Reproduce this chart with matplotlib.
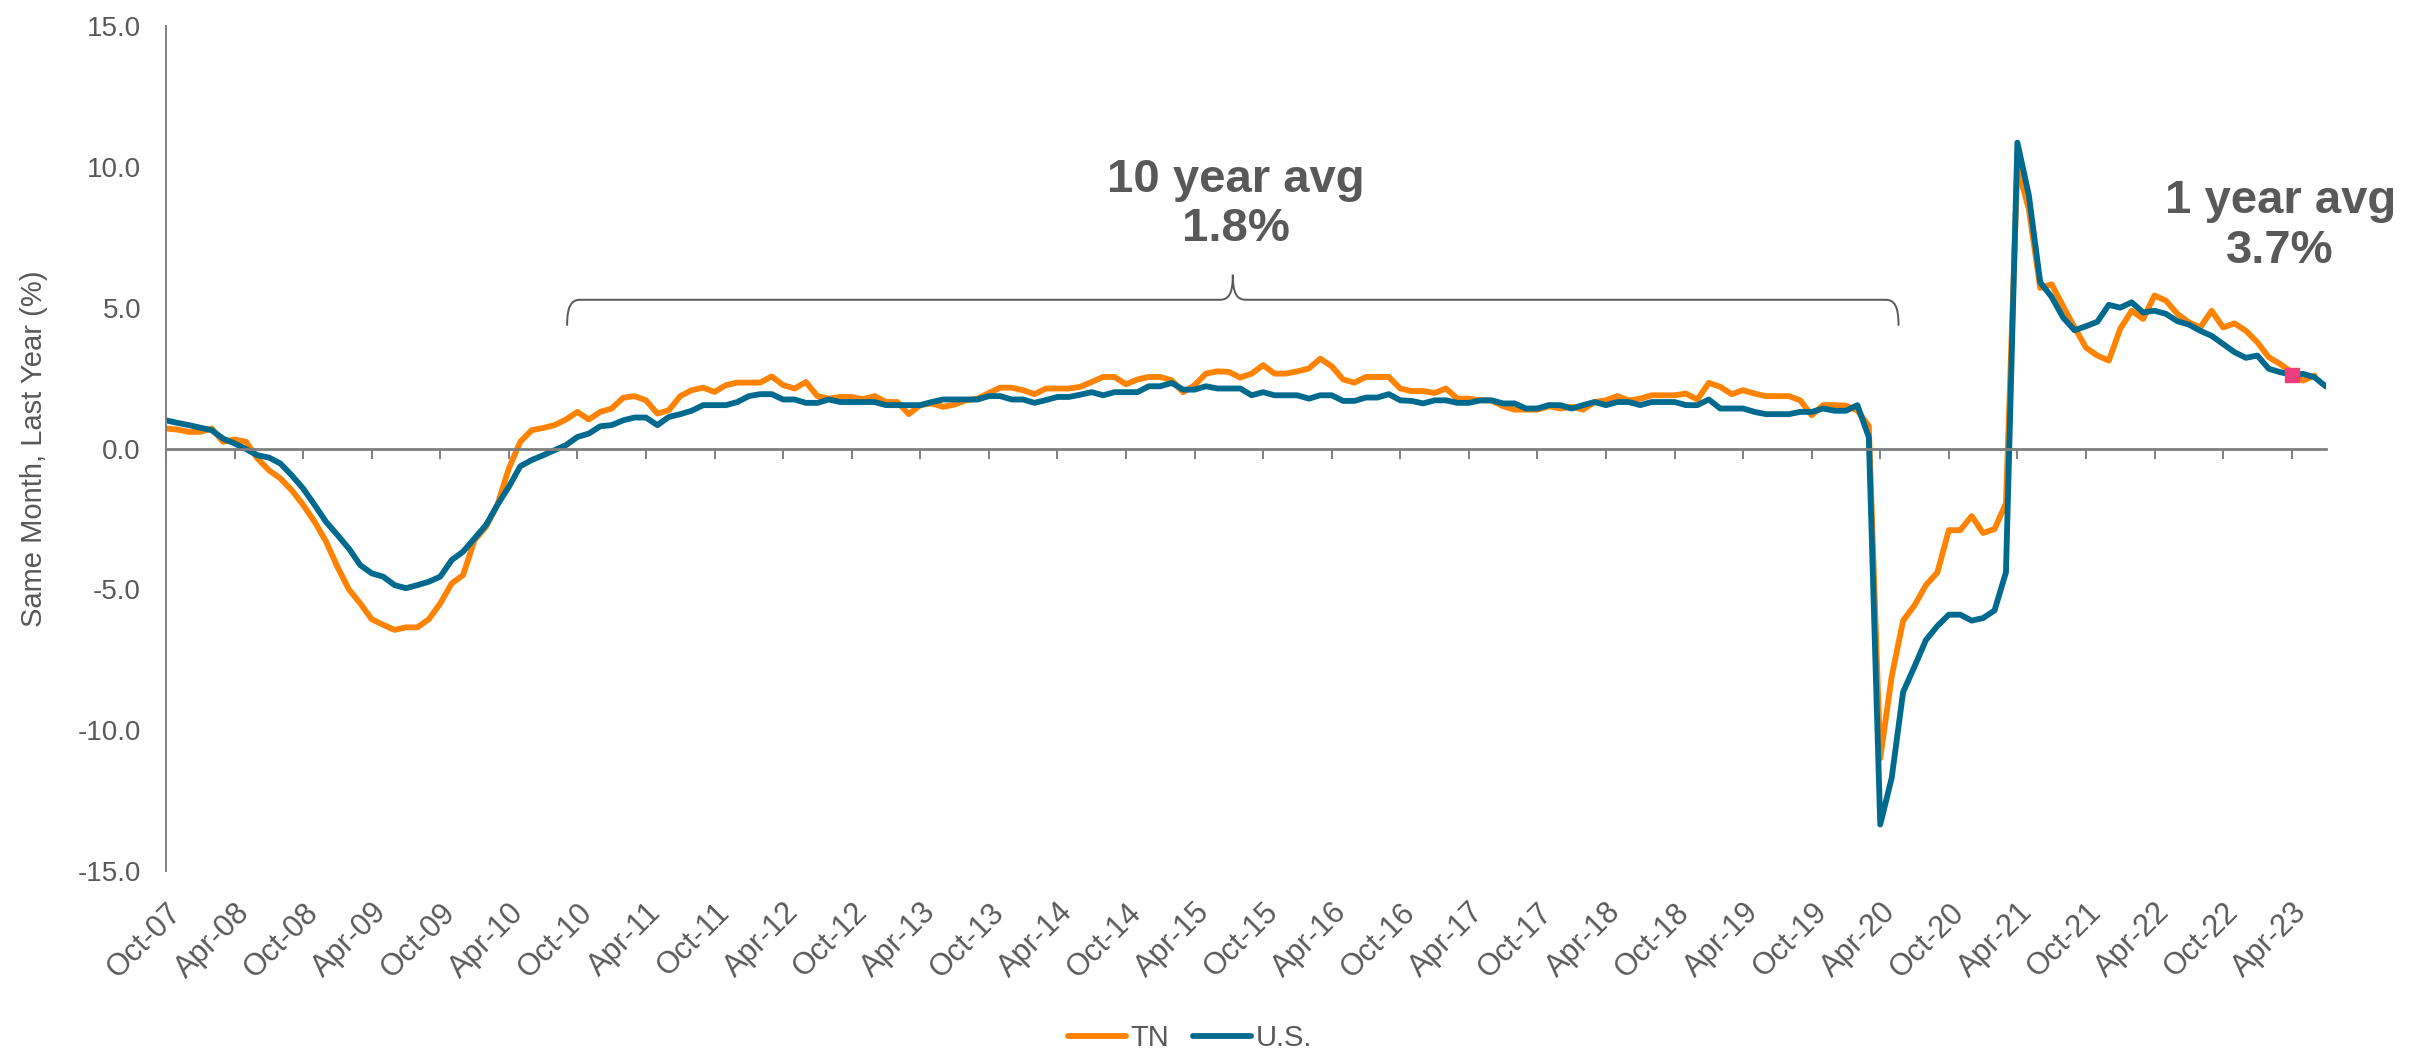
import matplotlib
matplotlib.use("Agg")
import matplotlib.pyplot as plt
from matplotlib.path import Path
from matplotlib.patches import PathPatch

plt.rcParams['font.family'] = ['Liberation Sans', 'DejaVu Sans']

# monthly % change, same month last year, Oct-07 .. Jul-23
tn = [0.71, 0.67, 0.59, 0.59, 0.71, 0.24, 0.32, 0.24, -0.35, -0.77,
      -1.06, -1.48, -2.0, -2.6, -3.3, -4.2, -5.0, -5.5, -6.06, -6.26,
      -6.44, -6.35, -6.35, -6.06, -5.5, -4.79, -4.49, -3.25, -2.78, -2.0,
      -0.71, 0.24, 0.65, 0.73, 0.83, 1.03, 1.3, 1.03, 1.3, 1.42,
      1.8, 1.86, 1.71, 1.24, 1.36, 1.86, 2.07, 2.16, 2.01, 2.25,
      2.34, 2.34, 2.34, 2.56, 2.25, 2.13, 2.36, 1.86, 1.77, 1.83,
      1.83, 1.75, 1.86, 1.65, 1.65, 1.22, 1.54, 1.6, 1.48, 1.56,
      1.71, 1.77, 1.97, 2.16, 2.16, 2.07, 1.93, 2.13, 2.13, 2.13,
      2.19, 2.36, 2.54, 2.54, 2.28, 2.45, 2.54, 2.54, 2.42, 2.0,
      2.25, 2.66, 2.74, 2.72, 2.52, 2.66, 2.96, 2.66, 2.66, 2.74,
      2.84, 3.19, 2.92, 2.45, 2.34, 2.54, 2.54, 2.54, 2.13, 2.04,
      2.04, 1.97, 2.13, 1.77, 1.77, 1.71, 1.7, 1.5, 1.38, 1.38,
      1.38, 1.5, 1.42, 1.48, 1.38, 1.65, 1.71, 1.86, 1.71, 1.77,
      1.89, 1.89, 1.89, 1.95, 1.74, 2.33, 2.19, 1.93, 2.07, 1.95,
      1.86, 1.86, 1.86, 1.71, 1.18, 1.54, 1.54, 1.52, 1.35, 0.8,
      -11.0, -8.1, -6.11, -5.57, -4.85, -4.4, -2.9, -2.9, -2.4, -3.0,
      -2.86, -1.95, 10.0, 8.5, 5.7, 5.83, 5.05, 4.3, 3.58, 3.3,
      3.12, 4.25, 4.89, 4.6, 5.43, 5.25, 4.78, 4.48, 4.3, 4.89,
      4.3, 4.44, 4.18, 3.77, 3.24, 3.0, 2.71, 2.41, 2.59]

us = [1.0, 0.91, 0.83, 0.74, 0.65, 0.35, 0.18, -0.02, -0.24, -0.32,
      -0.53, -0.95, -1.42, -2.0, -2.6, -3.07, -3.55, -4.14, -4.43, -4.55,
      -4.85, -4.96, -4.85, -4.73, -4.55, -3.96, -3.66, -3.19, -2.72, -2.0,
      -1.36, -0.63, -0.41, -0.24, -0.06, 0.12, 0.41, 0.53, 0.79, 0.83,
      1.0, 1.1, 1.1, 0.83, 1.12, 1.22, 1.34, 1.54, 1.54, 1.54,
      1.65, 1.86, 1.93, 1.93, 1.74, 1.74, 1.62, 1.62, 1.74, 1.65,
      1.65, 1.65, 1.65, 1.54, 1.54, 1.54, 1.54, 1.65, 1.74, 1.74,
      1.74, 1.74, 1.86, 1.86, 1.74, 1.74, 1.62, 1.72, 1.83, 1.83,
      1.91, 2.0, 1.89, 2.0, 2.0, 2.0, 2.21, 2.21, 2.33, 2.09,
      2.09, 2.21, 2.13, 2.13, 2.13, 1.89, 2.0, 1.89, 1.89, 1.89,
      1.77, 1.89, 1.89, 1.69, 1.69, 1.81, 1.81, 1.93, 1.71, 1.69,
      1.6, 1.71, 1.71, 1.62, 1.62, 1.71, 1.71, 1.6, 1.6, 1.42,
      1.42, 1.54, 1.54, 1.42, 1.54, 1.65, 1.54, 1.65, 1.65, 1.54,
      1.65, 1.65, 1.65, 1.54, 1.54, 1.74, 1.42, 1.42, 1.42, 1.3,
      1.22, 1.22, 1.22, 1.3, 1.3, 1.42, 1.34, 1.34, 1.54, 0.4,
      -13.35, -11.7, -8.65, -7.74, -6.8, -6.3, -5.9, -5.9, -6.11, -6.02,
      -5.75, -4.4, 10.86, 9.0, 5.9, 5.38, 4.65, 4.2, 4.34, 4.5,
      5.1, 5.0, 5.19, 4.83, 4.89, 4.78, 4.52, 4.4, 4.18, 4.0,
      3.71, 3.42, 3.22, 3.3, 2.83, 2.71, 2.62, 2.65, 2.53, 2.2]

tick_labels = ['Oct-07', 'Apr-08', 'Oct-08', 'Apr-09', 'Oct-09', 'Apr-10',
               'Oct-10', 'Apr-11', 'Oct-11', 'Apr-12', 'Oct-12', 'Apr-13',
               'Oct-13', 'Apr-14', 'Oct-14', 'Apr-15', 'Oct-15', 'Apr-16',
               'Oct-16', 'Apr-17', 'Oct-17', 'Apr-18', 'Oct-18', 'Apr-19',
               'Oct-19', 'Apr-20', 'Oct-20', 'Apr-21', 'Oct-21', 'Apr-22',
               'Oct-22', 'Apr-23']
y_ticks = [-15, -10, -5, 0, 5, 10, 15]
highlight = 186  # Apr-23

orange = '#FF8200'
blue = '#006A8E'
grey = '#595959'
axis_grey = '#7F7F7F'

fig = plt.figure(figsize=(24.25, 10.54), dpi=100)
ax = fig.add_axes([0.06845, 0.17362, 0.8907, 0.80171])

x_tn = list(range(len(tn)))
x_us = list(range(len(us)))
ax.plot(x_tn, tn, color=orange, lw=4.2, label='TN',
        solid_joinstyle='round', solid_capstyle='round')
ax.plot(x_us, us, color=blue, lw=4.2, label='U.S.',
        solid_joinstyle='round', solid_capstyle='round')
ax.plot(x_us[highlight], us[highlight], marker='s', ms=9.5,
        color='#EE3D7D', ls='none')

ax.set_xlim(0, len(us) - 1)
ax.set_ylim(-15, 15)

for s in ['top', 'right']:
    ax.spines[s].set_visible(False)
ax.spines['left'].set_color(axis_grey)
ax.spines['left'].set_linewidth(1.4)
ax.spines['bottom'].set_position(('data', 0))
ax.spines['bottom'].set_color(axis_grey)
ax.spines['bottom'].set_linewidth(2)

tick_pos = list(range(0, len(us), 6))
ax.set_xticks(tick_pos)
ax.tick_params(axis='x', direction='out', length=7, width=1.4,
               color=axis_grey, labelbottom=False)

# month labels sit at the bottom of the plot, ticks stay on the zero line
sec = ax.secondary_xaxis('bottom')
sec.set_xticks(tick_pos, tick_labels)
sec.spines['bottom'].set_visible(False)
sec.tick_params(length=0, labelsize=22, colors=grey, pad=19)
for lab in sec.get_xticklabels():
    lab.set_rotation(45)
    lab.set_ha('right')
    lab.set_va('top')
    lab.set_rotation_mode('anchor')

ax.set_yticks(y_ticks, [f'{v:.1f}' for v in y_ticks])
ax.tick_params(axis='y', length=0, pad=18, labelsize=20, colors=grey)

ax.set_ylabel('Same Month, Last Year (%)', fontsize=21, color=grey)
ax.yaxis.set_label_coords(-0.0544, 0.5)

# brace over the 10 year window
x0, x1 = 35.1, 151.6
xc = (x0 + x1) / 2
yt, yl, yp = 4.36, 5.28, 6.17
r = 1.15
verts = [(x0, yt),
         (x0, yt + 0.75 * (yl - yt)), (x0 + 0.3 * r, yl), (x0 + r, yl),
         (xc - r, yl),
         (xc - 0.3 * r, yl), (xc, yl + 0.25 * (yp - yl)), (xc, yp),
         (xc, yl + 0.25 * (yp - yl)), (xc + 0.3 * r, yl), (xc + r, yl),
         (x1 - r, yl),
         (x1 - 0.3 * r, yl), (x1, yt + 0.75 * (yl - yt)), (x1, yt)]
codes = [Path.MOVETO,
         Path.CURVE4, Path.CURVE4, Path.CURVE4,
         Path.LINETO,
         Path.CURVE4, Path.CURVE4, Path.CURVE4,
         Path.CURVE4, Path.CURVE4, Path.CURVE4,
         Path.LINETO,
         Path.CURVE4, Path.CURVE4, Path.CURVE4]
ax.add_patch(PathPatch(Path(verts, codes), fill=False, ec=grey, lw=1.4))

ax.text(93.6, 8.67, '10 year avg\n1.8%', ha='center', va='center',
        fontsize=34, fontweight='bold', color=grey, linespacing=1.15)
ax.text(185.0, 7.9, '1 year avg\n3.7%', ha='center', va='center',
        fontsize=34, fontweight='bold', color=grey, linespacing=1.15)

fig.legend(loc='center', bbox_to_anchor=(0.4907, 0.0152), ncol=2,
           frameon=False, handlelength=2.0,
           handletextpad=0.15, columnspacing=0.8, labelcolor=grey,
           prop={'size': 21})

fig.savefig('out.png', dpi=100)
